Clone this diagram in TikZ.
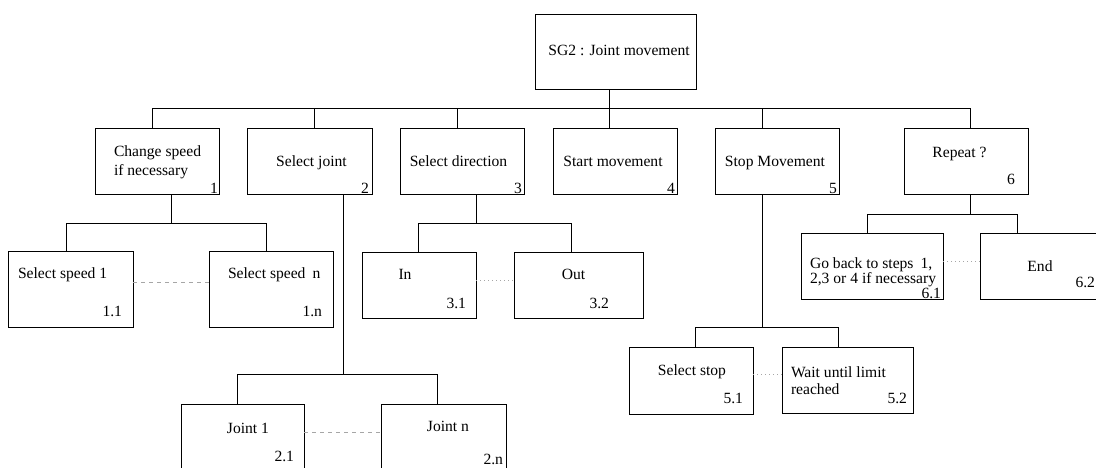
\documentclass[tikz,border=0pt]{standalone}
\usepackage{fontspec}
\setmainfont{Liberation Serif}
\begin{document}
\begin{tikzpicture}[x=1pt,y=-1pt,
  box/.style={draw, line width=0.9pt, inner sep=0pt, outer sep=0pt},
  wire/.style={line width=0.9pt},
  dashlink/.style={gray!70, line width=0.7pt, dash pattern=on 4pt off 4pt},
  dotlink/.style={gray!70, line width=0.7pt, dash pattern=on 1pt off 3pt},
  txt/.style={inner sep=0pt, outer sep=0pt, font=\fontsize{15.6}{17}\selectfont},
  txtl/.style={txt, anchor=base west},
  txtc/.style={txt, anchor=base},
  num/.style={txt, anchor=base east}]
\useasboundingbox (0,0) rectangle (1096,467);
\fill[white] (0,0) rectangle (1096,467);
\clip (0,0) rectangle (1096,467);

% ---- boxes ----
\node[box, minimum width=161, minimum height=75] (root) at (615.5,51.5) {};
\node[box, minimum width=124, minimum height=66] (b1) at (157,161) {};
\node[box, minimum width=125, minimum height=66] (b2) at (309.5,161) {};
\node[box, minimum width=124, minimum height=66] (b3) at (462,161) {};
\node[box, minimum width=124, minimum height=66] (b4) at (615,161) {};
\node[box, minimum width=124, minimum height=66] (b5) at (777,161) {};
\node[box, minimum width=124, minimum height=66] (b6) at (966,161) {};

\node[box, minimum width=125, minimum height=76] (s11) at (70.5,289) {};
\node[box, minimum width=124, minimum height=76] (s1n) at (271,289) {};
\node[box, minimum width=123, minimum height=66] (j1) at (242.5,437) {};
\node[box, minimum width=125, minimum height=66] (jn) at (443.5,437) {};
\node[box, minimum width=114, minimum height=66] (d1) at (419,285) {};
\node[box, minimum width=129, minimum height=66] (d2) at (578.5,285) {};
\node[box, minimum width=124, minimum height=67] (t1) at (691,380.5) {};
\node[box, minimum width=131, minimum height=66] (t2) at (847.5,380) {};
\node[box, minimum width=142, minimum height=66] (r1) at (872,266) {};
\node[box, minimum width=130, minimum height=66] (r2) at (1045,266) {};

% ---- main bus ----
\coordinate (k1) at (152,108);
\coordinate (k2) at (314,108);
\coordinate (k3) at (457,108);
\coordinate (k4) at (609,108);
\coordinate (k5) at (762,108);
\coordinate (k6) at (970,108);
\draw[wire] (k1) -- (k6);
\draw[wire] (root.south -| k4) -- (k4);
\foreach \i in {1,...,6} \draw[wire] (k\i) -- (k\i |- b\i.north);

% ---- sub-trees ----
\coordinate (a1) at (171,223);
\draw[wire] (b1.south -| a1) -- (a1);
\draw[wire] (66,223) coordinate (a1l) -- (266,223) coordinate (a1r);
\draw[wire] (a1l) -- (a1l |- s11.north);
\draw[wire] (a1r) -- (a1r |- s1n.north);

\coordinate (a2) at (343,374);
\draw[wire] (b2.south -| a2) -- (a2);
\draw[wire] (237,374) coordinate (a2l) -- (437,374) coordinate (a2r);
\draw[wire] (a2l) -- (a2l |- j1.north);
\draw[wire] (a2r) -- (a2r |- jn.north);

\coordinate (a3) at (476,223);
\draw[wire] (b3.south -| a3) -- (a3);
\draw[wire] (418,223) coordinate (a3l) -- (571,223) coordinate (a3r);
\draw[wire] (a3l) -- (a3l |- d1.north);
\draw[wire] (a3r) -- (a3r |- d2.north);

\coordinate (a5) at (762,327);
\draw[wire] (b5.south -| a5) -- (a5);
\draw[wire] (695,327) coordinate (a5l) -- (838,327) coordinate (a5r);
\draw[wire] (a5l) -- (a5l |- t1.north);
\draw[wire] (a5r) -- (a5r |- t2.north);

\coordinate (a6) at (970,214);
\draw[wire] (b6.south -| a6) -- (a6);
\draw[wire] (867,214) coordinate (a6l) -- (1017,214) coordinate (a6r);
\draw[wire] (a6l) -- (a6l |- r1.north);
\draw[wire] (a6r) -- (a6r |- r2.north);

% ---- sibling links ----
\draw[dashlink] (s11.east |- 0,282) -- (s1n.west |- 0,282);
\draw[dashlink] (j1.east |- 0,432) -- (jn.west |- 0,432);
\draw[dotlink] (d1.east |- 0,280) -- (d2.west |- 0,280);
\draw[dotlink] (t1.east |- 0,374) -- (t2.west |- 0,374);
\draw[dotlink] (r1.east |- 0,261) -- (r2.west |- 0,261);

% ---- texts ----
\node[txtc] (troot) at (619,55) {SG2 : Joint movement};

\node[txtl] (tb1a) at (114,156) {Change speed};
\node[txtl] (tb1b) at (114,175) {if necessary};
\node[num] (nb1) at (218,193) {1};
\node[txtc] (tb2) at (311.5,166) {Select joint};
\node[num] (nb2) at (369,193) {2};
\node[txtc] (tb3) at (458.5,166) {Select direction};
\node[num] (nb3) at (522,193) {3};
\node[txtc] (tb4) at (613,166) {Start movement};
\node[num] (nb4) at (675,193) {4};
\node[txtc] (tb5) at (775,166) {Stop Movement};
\node[num] (nb5) at (837,193) {5};
\node[txtc] (tb6) at (959.5,157) {Repeat ?};
\node[num] (nb6) at (1015,184) {6};

\node[txtl] (ts11) at (18,278) {Select speed 1};
\node[num] (ns11) at (122,316) {1.1};
\node[txtl] (ts1n) at (228,278) {Select speed\hspace{0.45em}n};
\node[num] (ns1n) at (322,316) {1.n};

\node[txtc] (tj1) at (248,433) {Joint 1};
\node[num] (nj1) at (294,461) {2.1};
\node[txtc] (tjn) at (448,431) {Joint n};
\node[num] (njn) at (503,464) {2.n};

\node[txtc] (td1) at (405,279) {In};
\node[num] (nd1) at (466,308) {3.1};
\node[txtc] (td2) at (573.5,279) {Out};
\node[num] (nd2) at (609,308) {3.2};

\node[txtc] (tt1) at (692,375) {Select stop};
\node[num] (nt1) at (743,403) {5.1};
\node[txtl] (tt2a) at (791,377) {Wait until limit};
\node[txtl] (tt2b) at (791,394) {reached};
\node[num] (nt2) at (907,403) {5.2};

\node[txtl] (tr1a) at (810,268) {Go back to steps\hspace{0.45em}1,};
\node[txtl] (tr1b) at (810,283) {2,3 or 4 if necessary};
\node[num] (nr1) at (941,298) {6.1};
\node[txtc] (tr2) at (1040,271) {End};
\node[num] (nr2) at (1095,287) {6.2};
\end{tikzpicture}
\end{document}
